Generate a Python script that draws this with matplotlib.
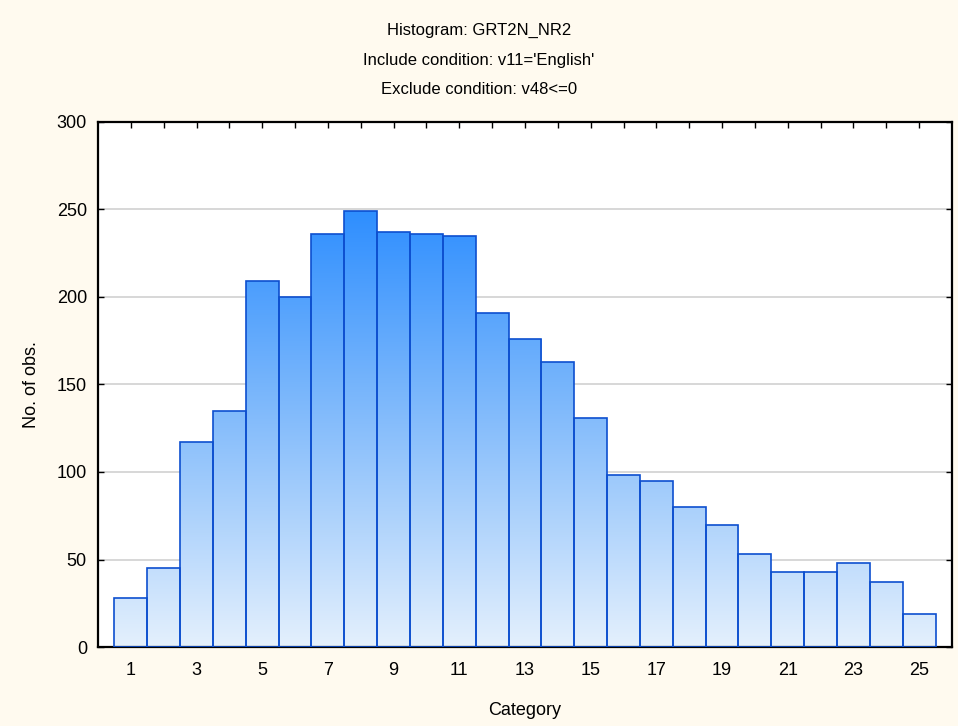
import matplotlib
matplotlib.use("Agg")
import matplotlib.pyplot as plt
from matplotlib.colors import LinearSegmentedColormap
import numpy as np

categories = list(range(1, 26))
counts = [28, 45, 117, 135, 209, 200, 236, 249, 237, 236, 235, 191, 176,
          163, 131, 98, 95, 80, 70, 53, 43, 43, 48, 37, 19]
xtick_labels = [1, 3, 5, 7, 9, 11, 13, 15, 17, 19, 21, 23, 25]
yticks = [0, 50, 100, 150, 200, 250, 300]

plt.rcParams['font.family'] = ['Liberation Sans', 'DejaVu Sans']

bg = '#fffaef'
fig = plt.figure(figsize=(9.58, 7.26), dpi=100, facecolor=bg)
ax = fig.add_axes([0.1023, 0.1088, 0.8914, 0.7232])
ax.set_facecolor('white')

# gradient fill, darker with height
cmap = LinearSegmentedColormap.from_list('blu', ['#e4f0fd', '#86bdfb', '#2a8cff'])
grad = np.linspace(0, 1, 256).reshape(-1, 1)

bars = ax.bar(categories, counts, width=1.0, facecolor='none',
              edgecolor='#0d4fcf', linewidth=1.2, zorder=3)
for b in bars:
    im = ax.imshow(grad, cmap=cmap, origin='lower', aspect='auto',
                   extent=[b.get_x(), b.get_x() + b.get_width(), 0, 255],
                   zorder=2, interpolation='bilinear')
    im.set_clip_path(b)

ax.set_xlim(0, 26)
ax.set_ylim(0, 300)
ax.set_xticks(categories, minor=False)
ax.set_xticklabels([str(c) if c in xtick_labels else '' for c in categories])
ax.set_yticks(yticks)
ax.yaxis.grid(True, color='#d4d4d4', linewidth=1.3, zorder=0)
ax.set_axisbelow(True)

ax.tick_params(direction='in', top=True, right=True, length=4, width=1,
               labelsize=13)
ax.tick_params(axis='x', pad=11)
ax.tick_params(axis='y', pad=8)
for s in ax.spines.values():
    s.set_linewidth(1.6)
    s.set_color('black')

ax.set_xlabel('Category', fontsize=13, labelpad=16)
ax.set_ylabel('No. of obs.', fontsize=13, labelpad=12)

fig.text(0.5, 1 - 30 / 726, 'Histogram: GRT2N_NR2', ha='center', va='center', fontsize=12)
fig.text(0.5, 1 - 60 / 726, "Include condition: v11='English'", ha='center', va='center', fontsize=12)
fig.text(0.5, 1 - 90 / 726, 'Exclude condition: v48<=0', ha='center', va='center', fontsize=12)

fig.savefig('out.png', dpi=100, facecolor=bg)
